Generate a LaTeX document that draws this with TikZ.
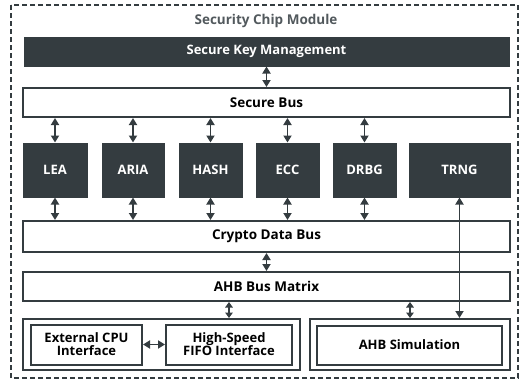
\documentclass[tikz,border=0pt]{standalone}
\usepackage{fontspec}
\setmainfont{Open Sans}
\usetikzlibrary{arrows.meta}
\definecolor{dk}{HTML}{343C40}
\tikzset{
  x=1pt, y=-1pt,
  >={Triangle[length=7pt,width=8pt]},
  darkbox/.style={rectangle, fill=dk, draw=dk, line width=1pt, text=white,
    font=\fontsize{13}{15}\selectfont\bfseries, inner sep=0pt},
  busbox/.style={rectangle, draw=dk, fill=white, line width=2pt, text=black,
    font=\fontsize{13.5}{15}\selectfont\bfseries, inner sep=0pt},
  groupbox/.style={rectangle, draw=dk, line width=2pt, inner sep=0pt},
  ifbox/.style={rectangle, draw=dk, fill=white, line width=2pt, text=black, align=center,
    font=\fontsize{13}{14}\selectfont\bfseries, inner sep=0pt},
  link/.style={<->, draw=dk, line width=1.8pt},
  shortlink/.style={link, {Triangle[length=5.5pt,width=7.5pt]}-{Triangle[length=5.5pt,width=7.5pt]}},
}
\begin{document}
\begin{tikzpicture}
  \useasboundingbox (0,0) rectangle (525,380);
  % outer module frame
  \draw[dk, line width=1.5pt, dash pattern=on 5pt off 3pt] (11,5) rectangle (518,378);
  \node[text=dk!85, font=\fontsize{13.5}{15}\selectfont\bfseries] (title) at (266,21) {Security Chip Module};

  % key management and buses
  \node[darkbox, minimum width=485pt, minimum height=29pt] (skm) at (266.5,51.5) {Secure Key Management};
  \node[busbox, minimum width=487pt, minimum height=29pt] (sbus) at (266.5,102.5) {Secure Bus};

  % crypto engines
  \foreach \n/\cx/\w/\t in {lea/55/64/LEA, aria/133/62/ARIA, hash/210.5/63/HASH,
      ecc/287.5/63/ECC, drbg/364.5/63/DRBG, trng/459.5/101/TRNG}
    \node[darkbox, minimum width=\w pt, minimum height=54pt] (\n) at (\cx,170) {\t};

  \node[busbox, minimum width=487pt, minimum height=31pt] (cbus) at (266.5,236.5) {Crypto Data Bus};
  \node[busbox, minimum width=487pt, minimum height=29pt] (ahb) at (266.5,286.5) {AHB Bus Matrix};

  % interface groups
  \node[groupbox, minimum width=277pt, minimum height=51pt] (lgrp) at (161.5,344.5) {};
  \node[ifbox, minimum width=111pt, minimum height=40pt] (ext) at (86.5,344.5) {External CPU\\[-1pt]Interface};
  \node[ifbox, minimum width=126pt, minimum height=40pt] (fifo) at (229,344.5) {High-Speed\\[-1pt]FIFO Interface};
  \node[groupbox, minimum width=200pt, minimum height=51pt] (rgrp) at (410,344.5) {};
  \node[ifbox, minimum width=185pt, minimum height=39pt] (sim) at (409.5,345) {AHB Simulation};

  % connections
  \draw[link] (skm.south) -- (sbus.north);
  \foreach \n in {lea, aria, hash, ecc, drbg} {
    \draw[link] (sbus.south -| \n.north) -- (\n.north);
    \draw[link] (\n.south) -- (cbus.north -| \n.south);
  }
  \draw[link] (cbus.south) -- (ahb.north);
  \draw[shortlink] (ahb.south -| fifo.north) -- (lgrp.north -| fifo.north);
  \draw[shortlink] (ahb.south -| rgrp.north) -- (rgrp.north);
  \draw[link] (ext.east) -- (fifo.west);
  \draw[link] (trng.south) -- (rgrp.north -| trng.south);
\end{tikzpicture}
\end{document}
